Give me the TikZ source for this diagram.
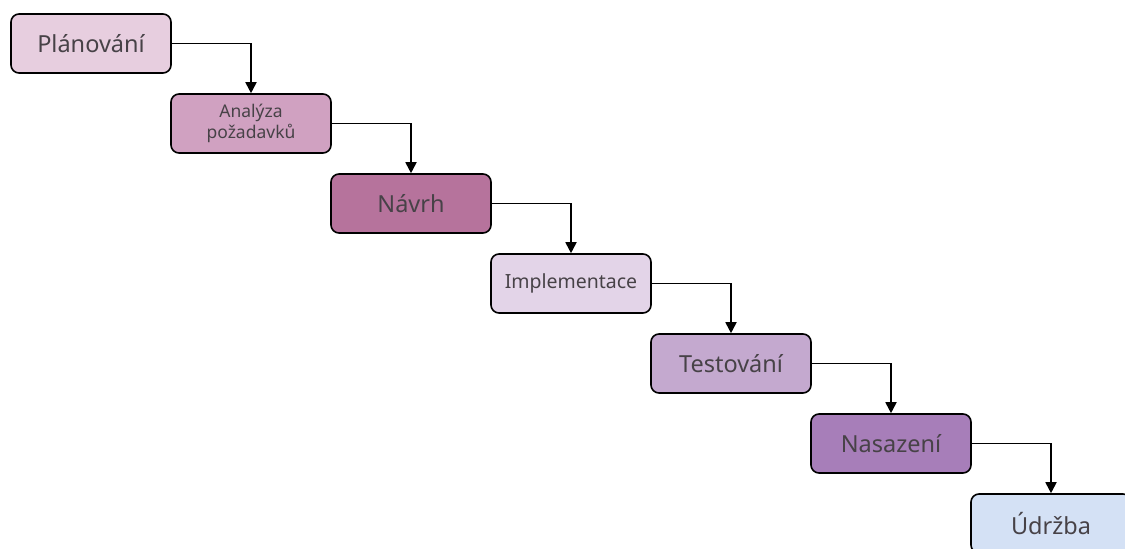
\documentclass[tikz,border=0pt]{standalone}
\usepackage{fontspec}
\setmainfont{Noto Sans}
\usepackage{xcolor}
\usetikzlibrary{arrows.meta}

\definecolor{planc}{HTML}{E7CEDF}
\definecolor{analc}{HTML}{D0A1C1}
\definecolor{navrc}{HTML}{B6739C}
\definecolor{implc}{HTML}{E3D4E8}
\definecolor{testc}{HTML}{C4A9CF}
\definecolor{nasac}{HTML}{A77EB9}
\definecolor{udrzc}{HTML}{D4E1F5}
\definecolor{txtc}{HTML}{474247}

\tikzset{
  phase/.style={draw=black, line width=1.6pt, rounded corners=8pt,
    minimum width=160pt, minimum height=59pt, inner sep=0pt,
    text=txtc, font=\fontsize{23.5}{26}\selectfont, align=center},
  arr/.style={line width=1.8pt, -{Triangle[length=11pt,width=11pt]}}
}

\begin{document}
\begin{tikzpicture}[x=1pt,y=-1pt]
\useasboundingbox (0,0) rectangle (1125,549);

\node[phase, fill=planc] (plan) at (91,43.5) {Plánování};
\node[phase, fill=analc, font=\fontsize{17.5}{21}\selectfont] (anal) at (251,123.5) {Analýza\\požadavků};
\node[phase, fill=navrc] (navrh) at (411,203.5) {Návrh};
\node[phase, fill=implc, font=\fontsize{19.5}{22}\selectfont] (impl) at (571,283.5) {Implementace};
\node[phase, fill=testc] (test) at (731,363.5) {Testování};
\node[phase, fill=nasac] (nasaz) at (891,443.5) {Nasazení};
\node[phase, fill=udrzc] (udrz) at (1051,523.5) {Údržba};

\draw[arr] (plan.east) -| (anal.north);
\draw[arr] (anal.east) -| (navrh.north);
\draw[arr] (navrh.east) -| (impl.north);
\draw[arr] (impl.east) -| (test.north);
\draw[arr] (test.east) -| (nasaz.north);
\draw[arr] (nasaz.east) -| (udrz.north);
\end{tikzpicture}
\end{document}
